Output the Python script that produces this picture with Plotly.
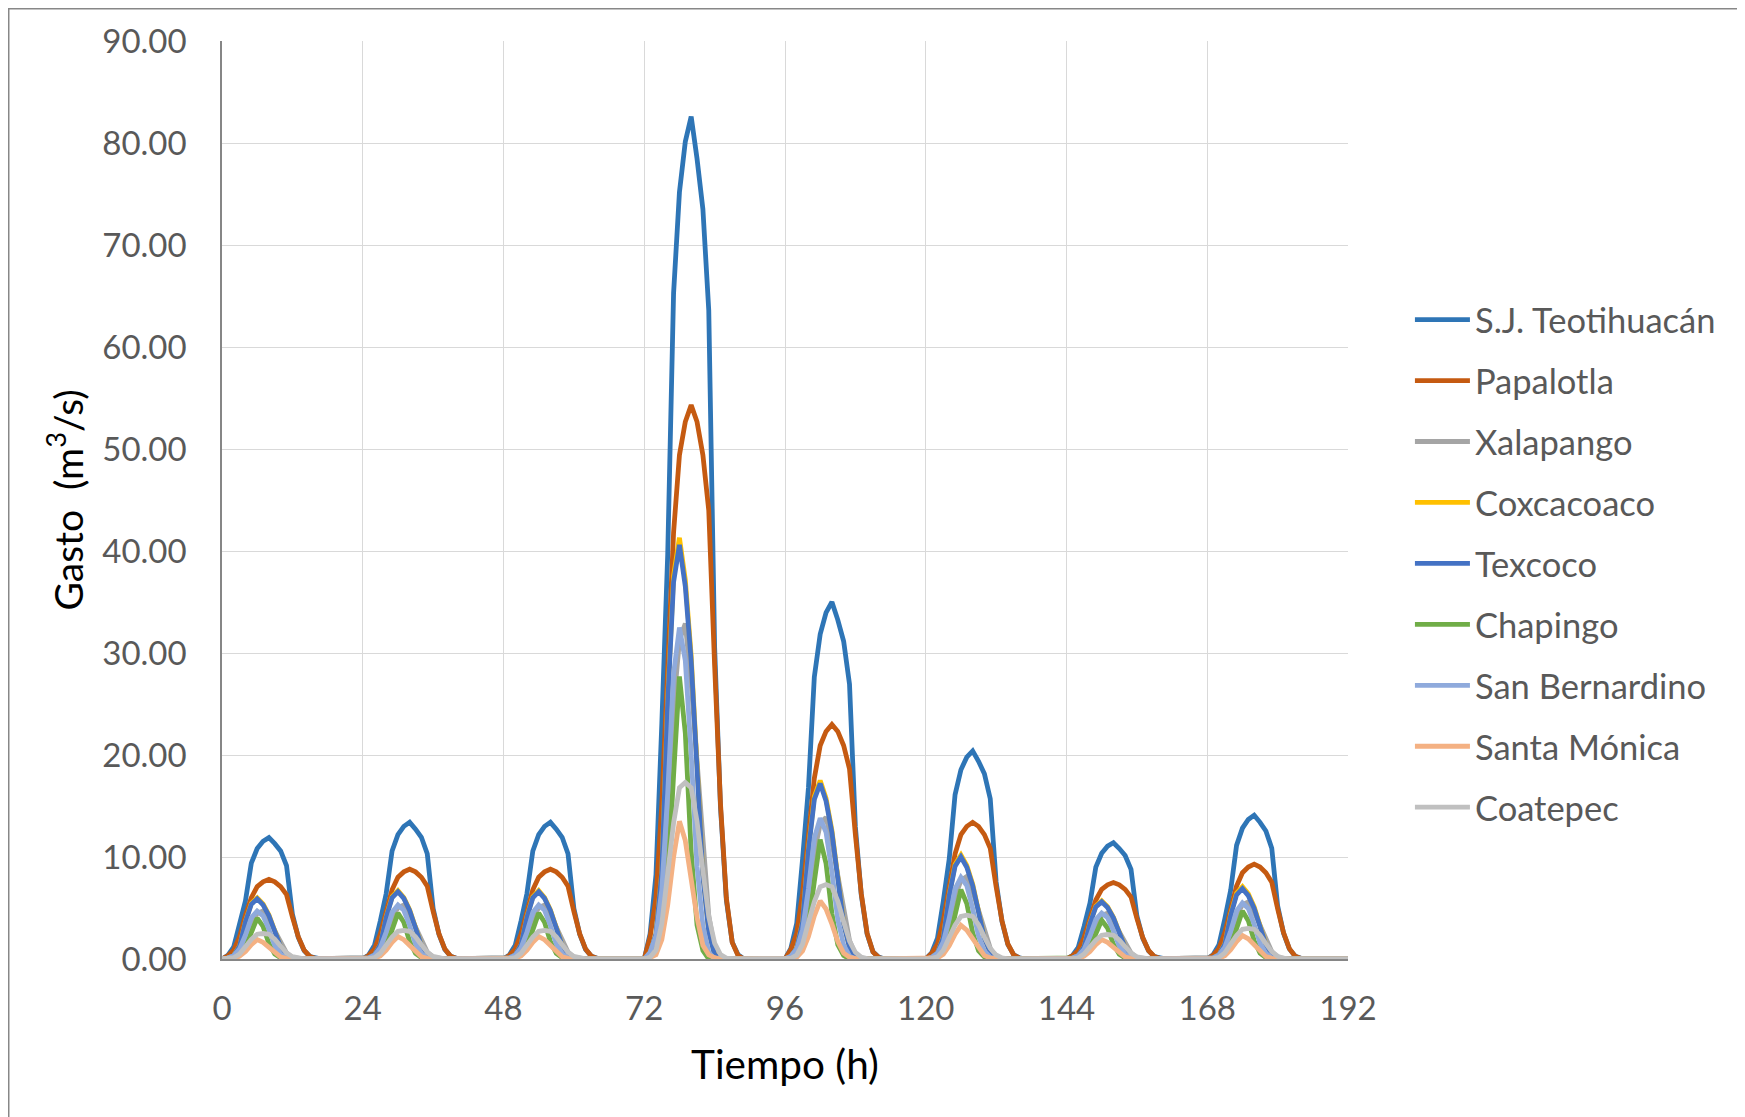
import plotly.graph_objects as go

# ---------------- data ----------------
HOURS = list(range(0, 193))
EVENT_STARTS = [0, 24, 48, 72, 96, 120, 144, 168]
X_TICKS = [0, 24, 48, 72, 96, 120, 144, 168, 192]

SERIES_NAMES = ["S.J. Teotihuacán", "Papalotla", "Xalapango", "Coxcacoaco", "Texcoco",
                "Chapingo", "San Bernardino", "Santa Mónica", "Coatepec"]

# hourly ordinates of each storm event (m3/s), starting at the event start hour
sj_teotihuacan = [
    [0, 0.36, 1.19, 3.33, 5.71, 9.40, 10.83, 11.54, 11.90, 11.31, 10.59, 9.16, 4.40, 2.14, 0.83, 0.24, 0.06],
    [0, 0.40, 1.34, 3.75, 6.43, 10.59, 12.19, 13.00, 13.40, 12.73, 11.93, 10.32, 4.96, 2.41, 0.94, 0.27, 0.07],
    [0, 0.40, 1.34, 3.75, 6.43, 10.59, 12.19, 13.00, 13.40, 12.73, 11.93, 10.32, 4.96, 2.41, 0.94, 0.27, 0.07],
    [0, 2.48, 8.26, 23.13, 39.65, 65.25, 75.17, 80.12, 82.60, 78.47, 73.51, 63.60, 30.56, 14.87, 5.78, 1.65, 0.41],
    [0, 1.05, 3.50, 9.80, 16.80, 27.65, 31.85, 33.95, 35.00, 33.25, 31.15, 26.95, 12.95, 6.30, 2.45, 0.70, 0.18],
    [0, 0.61, 2.04, 5.71, 9.79, 16.12, 18.56, 19.79, 20.40, 19.38, 18.16, 15.71, 7.55, 3.67, 1.43, 0.41, 0.10],
    [0, 0.34, 1.14, 3.19, 5.47, 9.01, 10.37, 11.06, 11.40, 10.83, 10.15, 8.78, 4.22, 2.05, 0.80, 0.23, 0.06],
    [0, 0.42, 1.41, 3.95, 6.77, 11.14, 12.83, 13.68, 14.10, 13.40, 12.55, 10.86, 5.22, 2.54, 0.99, 0.28, 0.07],
]
papalotla = [
    [0, 0.31, 0.86, 2.18, 4.29, 6.01, 7.10, 7.57, 7.80, 7.57, 7.10, 6.32, 4.13, 2.18, 0.86, 0.23, 0.05],
    [0, 0.35, 0.97, 2.46, 4.84, 6.78, 8.01, 8.54, 8.80, 8.54, 8.01, 7.13, 4.66, 2.46, 0.97, 0.26, 0.05],
    [0, 0.35, 0.97, 2.46, 4.84, 6.78, 8.01, 8.54, 8.80, 8.54, 8.01, 7.13, 4.66, 2.46, 0.97, 0.26, 0.05],
    [0, 2.17, 5.97, 15.20, 29.87, 41.81, 49.41, 52.67, 54.30, 52.67, 49.41, 43.98, 28.78, 15.20, 5.97, 1.63, 0.33],
    [0, 0.92, 2.53, 6.44, 12.65, 17.71, 20.93, 22.31, 23.00, 22.31, 20.93, 18.63, 12.19, 6.44, 2.53, 0.69, 0.14],
    [0, 0.54, 1.47, 3.75, 7.37, 10.32, 12.19, 13.00, 13.40, 13.00, 12.19, 10.85, 7.10, 3.75, 1.47, 0.40, 0.08],
    [0, 0.30, 0.83, 2.10, 4.13, 5.78, 6.83, 7.28, 7.50, 7.28, 6.83, 6.08, 3.98, 2.10, 0.83, 0.23, 0.05],
    [0, 0.37, 1.02, 2.60, 5.12, 7.16, 8.46, 9.02, 9.30, 9.02, 8.46, 7.53, 4.93, 2.60, 1.02, 0.28, 0.06],
]
xalapango = [
    [0, 0.05, 0.19, 0.56, 2.12, 3.53, 4.47, 4.70, 3.85, 2.73, 1.69, 0.61, 0.14, 0.02],
    [0, 0.05, 0.21, 0.64, 2.39, 3.98, 5.04, 5.30, 4.35, 3.07, 1.91, 0.69, 0.16, 0.03],
    [0, 0.05, 0.21, 0.64, 2.39, 3.98, 5.04, 5.30, 4.35, 3.07, 1.91, 0.69, 0.16, 0.03],
    [0, 0.33, 1.32, 3.95, 14.81, 24.68, 31.26, 32.90, 26.98, 19.08, 11.84, 4.28, 0.99, 0.16],
    [0, 0.14, 0.56, 1.67, 6.26, 10.43, 13.21, 13.90, 11.40, 8.06, 5.00, 1.81, 0.42, 0.07],
    [0, 0.08, 0.32, 0.97, 3.65, 6.08, 7.70, 8.10, 6.64, 4.70, 2.92, 1.05, 0.24, 0.04],
    [0, 0.05, 0.18, 0.54, 2.03, 3.38, 4.28, 4.50, 3.69, 2.61, 1.62, 0.59, 0.14, 0.02],
    [0, 0.06, 0.22, 0.67, 2.52, 4.20, 5.32, 5.60, 4.59, 3.25, 2.02, 0.73, 0.17, 0.03],
]
coxcacoaco = [
    [0, 0.09, 0.36, 1.26, 3.72, 5.46, 6.00, 5.40, 4.32, 2.76, 1.20, 0.39, 0.06],
    [0, 0.10, 0.40, 1.41, 4.15, 6.10, 6.70, 6.03, 4.82, 3.08, 1.34, 0.44, 0.07],
    [0, 0.10, 0.40, 1.41, 4.15, 6.10, 6.70, 6.03, 4.82, 3.08, 1.34, 0.44, 0.07],
    [0, 0.62, 2.48, 8.67, 25.61, 37.58, 41.30, 37.17, 29.74, 19.00, 8.26, 2.68, 0.41],
    [0, 0.26, 1.05, 3.68, 10.85, 15.93, 17.50, 15.75, 12.60, 8.05, 3.50, 1.14, 0.18],
    [0, 0.15, 0.61, 2.14, 6.32, 9.28, 10.20, 9.18, 7.34, 4.69, 2.04, 0.66, 0.10],
    [0, 0.09, 0.34, 1.20, 3.53, 5.19, 5.70, 5.13, 4.10, 2.62, 1.14, 0.37, 0.06],
    [0, 0.11, 0.43, 1.49, 4.40, 6.46, 7.10, 6.39, 5.11, 3.27, 1.42, 0.46, 0.07],
]
texcoco = [
    [0, 0.09, 0.35, 1.24, 3.66, 5.37, 5.90, 5.31, 4.25, 2.71, 1.18, 0.38, 0.06],
    [0, 0.10, 0.40, 1.39, 4.09, 6.01, 6.60, 5.94, 4.75, 3.04, 1.32, 0.43, 0.07],
    [0, 0.10, 0.40, 1.39, 4.09, 6.01, 6.60, 5.94, 4.75, 3.04, 1.32, 0.43, 0.07],
    [0, 0.61, 2.44, 8.53, 25.17, 36.95, 40.60, 36.54, 29.23, 18.68, 8.12, 2.64, 0.41],
    [0, 0.26, 1.03, 3.61, 10.66, 15.65, 17.20, 15.48, 12.38, 7.91, 3.44, 1.12, 0.17],
    [0, 0.15, 0.60, 2.10, 6.20, 9.10, 10.00, 9.00, 7.20, 4.60, 2.00, 0.65, 0.10],
    [0, 0.08, 0.34, 1.18, 3.47, 5.10, 5.60, 5.04, 4.03, 2.58, 1.12, 0.36, 0.06],
    [0, 0.10, 0.41, 1.45, 4.28, 6.28, 6.90, 6.21, 4.97, 3.17, 1.38, 0.45, 0.07],
]
chapingo = [
    [0, 0.04, 0.12, 0.40, 1.08, 2.60, 4.00, 3.20, 1.52, 0.48, 0.12],
    [0, 0.05, 0.14, 0.45, 1.22, 2.93, 4.50, 3.60, 1.71, 0.54, 0.14],
    [0, 0.05, 0.14, 0.45, 1.22, 2.93, 4.50, 3.60, 1.71, 0.54, 0.14],
    [0, 0.28, 0.83, 2.77, 7.48, 18.01, 27.70, 22.16, 10.53, 3.32, 0.83],
    [0, 0.12, 0.35, 1.17, 3.16, 7.61, 11.70, 9.36, 4.45, 1.40, 0.35],
    [0, 0.07, 0.20, 0.68, 1.84, 4.42, 6.80, 5.44, 2.58, 0.82, 0.20],
    [0, 0.04, 0.11, 0.38, 1.03, 2.47, 3.80, 3.04, 1.44, 0.46, 0.11],
    [0, 0.05, 0.14, 0.47, 1.27, 3.06, 4.70, 3.76, 1.79, 0.56, 0.14],
]
san_bernardino = [
    [0, 0.09, 0.33, 0.99, 2.35, 4.04, 4.70, 4.23, 2.91, 1.32, 0.47, 0.09],
    [0, 0.11, 0.37, 1.11, 2.65, 4.56, 5.30, 4.77, 3.29, 1.48, 0.53, 0.11],
    [0, 0.11, 0.37, 1.11, 2.65, 4.56, 5.30, 4.77, 3.29, 1.48, 0.53, 0.11],
    [0, 0.65, 2.28, 6.83, 16.25, 27.95, 32.50, 29.25, 20.15, 9.10, 3.25, 0.65],
    [0, 0.28, 0.97, 2.90, 6.90, 11.87, 13.80, 12.42, 8.56, 3.86, 1.38, 0.28],
    [0, 0.16, 0.56, 1.68, 4.00, 6.88, 8.00, 7.20, 4.96, 2.24, 0.80, 0.16],
    [0, 0.09, 0.32, 0.95, 2.25, 3.87, 4.50, 4.05, 2.79, 1.26, 0.45, 0.09],
    [0, 0.11, 0.39, 1.16, 2.75, 4.73, 5.50, 4.95, 3.41, 1.54, 0.55, 0.11],
]
santa_monica = [
    [0, 0.02, 0.06, 0.27, 0.74, 1.41, 1.90, 1.63, 1.14, 0.57, 0.19, 0.06, 0.02],
    [0, 0.02, 0.07, 0.31, 0.86, 1.63, 2.20, 1.89, 1.32, 0.66, 0.22, 0.07, 0.02],
    [0, 0.02, 0.07, 0.31, 0.86, 1.63, 2.20, 1.89, 1.32, 0.66, 0.22, 0.07, 0.02],
    [0, 0.14, 0.41, 1.89, 5.27, 9.99, 13.50, 11.61, 8.10, 4.05, 1.35, 0.41, 0.14],
    [0, 0.06, 0.17, 0.80, 2.22, 4.22, 5.70, 4.90, 3.42, 1.71, 0.57, 0.17, 0.06],
    [0, 0.03, 0.10, 0.46, 1.29, 2.44, 3.30, 2.84, 1.98, 0.99, 0.33, 0.10, 0.03],
    [0, 0.02, 0.06, 0.27, 0.74, 1.41, 1.90, 1.63, 1.14, 0.57, 0.19, 0.06, 0.02],
    [0, 0.02, 0.07, 0.32, 0.90, 1.70, 2.30, 1.98, 1.38, 0.69, 0.23, 0.07, 0.02],
]
coatepec = [
    [0, 0.03, 0.13, 0.50, 1.23, 1.93, 2.43, 2.50, 2.43, 1.95, 1.25, 0.60, 0.23, 0.06, 0.01],
    [0, 0.03, 0.14, 0.56, 1.37, 2.16, 2.72, 2.80, 2.72, 2.18, 1.40, 0.67, 0.25, 0.07, 0.01],
    [0, 0.03, 0.14, 0.56, 1.37, 2.16, 2.72, 2.80, 2.72, 2.18, 1.40, 0.67, 0.25, 0.07, 0.01],
    [0, 0.17, 0.87, 3.46, 8.48, 13.32, 16.78, 17.30, 16.78, 13.49, 8.65, 4.15, 1.56, 0.43, 0.09],
    [0, 0.07, 0.37, 1.46, 3.58, 5.62, 7.08, 7.30, 7.08, 5.69, 3.65, 1.75, 0.66, 0.18, 0.04],
    [0, 0.04, 0.22, 0.86, 2.11, 3.31, 4.17, 4.30, 4.17, 3.35, 2.15, 1.03, 0.39, 0.11, 0.02],
    [0, 0.02, 0.12, 0.48, 1.18, 1.85, 2.33, 2.40, 2.33, 1.87, 1.20, 0.58, 0.22, 0.06, 0.01],
    [0, 0.03, 0.15, 0.60, 1.47, 2.31, 2.91, 3.00, 2.91, 2.34, 1.50, 0.72, 0.27, 0.08, 0.02],
]

SERIES_EVENTS = [sj_teotihuacan, papalotla, xalapango, coxcacoaco, texcoco,
                 chapingo, san_bernardino, santa_monica, coatepec]

# ---------------- styles ----------------
COLORS = ["#2E75B6", "#C55A11", "#A5A5A5", "#FFC000", "#4472C4",
          "#70AD47", "#8FAADC", "#F4B183", "#C0C0C0"]
FONT = "Lato, 'Open Sans', sans-serif"


def hourly(events):
    y = [0.0] * len(HOURS)
    for start, ords in zip(EVENT_STARTS, events):
        for k, v in enumerate(ords):
            if start + k < len(y):
                y[start + k] = v
    return y


fig = go.Figure()
for name, events, color in zip(SERIES_NAMES, SERIES_EVENTS, COLORS):
    fig.add_trace(go.Scatter(
        x=HOURS, y=hourly(events), name=name, mode="lines",
        legendgroup=name,
        line=dict(color=color, width=4.8),
    ))

fig.update_layout(
    width=1745, height=1117,
    margin=dict(l=214, r=405, t=33, b=166),
    paper_bgcolor="white", plot_bgcolor="white",
    font=dict(family=FONT, size=33, color="#595959"),
    showlegend=True,
    legend=dict(
        x=1.055, xanchor="left", y=0.728, yanchor="top",
        font=dict(family=FONT, size=34.5, color="#595959"),
        tracegroupgap=13.1, itemwidth=55,
        bgcolor="rgba(0,0,0,0)",
    ),
    xaxis=dict(
        range=[0, 192], tickmode="array", tickvals=X_TICKS,
        ticktext=[str(v) for v in X_TICKS],
        showgrid=True, gridcolor="#D9D9D9", gridwidth=1.3,
        showline=True, linecolor="#868686", linewidth=1.5,
        zeroline=False, ticks="", ticklabelstandoff=20,
        tickfont=dict(family=FONT, size=33, color="#595959"),
        title=dict(text="Tiempo (h)", standoff=24,
                   font=dict(family=FONT, size=40.5, color="#000000")),
        automargin=False,
    ),
    yaxis=dict(
        range=[0, 90], dtick=10, tick0=0, tickformat=".2f",
        showgrid=True, gridcolor="#D9D9D9", gridwidth=1.3,
        showline=True, linecolor="#868686", linewidth=1.5,
        zeroline=False, ticks="", ticklabelstandoff=27,
        tickfont=dict(family=FONT, size=33, color="#595959"),
        title=dict(text="Gasto  (m<sup>3</sup>/s)", standoff=7,
                   font=dict(family=FONT, size=39, color="#000000")),
        automargin=False,
    ),
    shapes=[dict(type="rect", xref="paper", yref="paper",
                 x0=-0.1894, x1=1.6, y0=-0.6, y1=1.0351,
                 line=dict(color="#878787", width=1.5), layer="below")],
)

fig.write_html("out.html")
